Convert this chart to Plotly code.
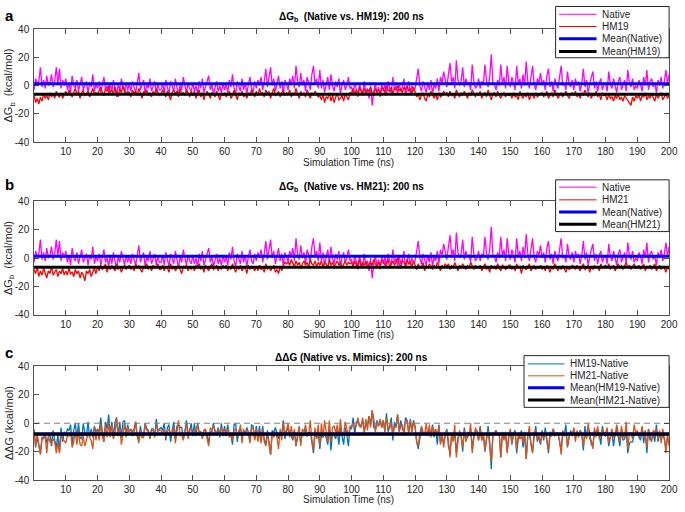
import numpy as np
import plotly.graph_objects as go

# ---------------- data (0.5 ns sampling) ----------------
time_ns = np.arange(0, 200.5, 0.5)

native = [
    -3, 5, 1, 3, 13, -1, 4, -2, 7, 0, 2, 8, -1, 3, 13, 1, 12, -2, 4, 0,          # 0-10
    5, -3, 2, -5, 7, 0, -2, 4, -4, 1, 6, -3, 0, 3, -5, 2, -1, 8, -4, 1,          # 10-20
    -2, 3, -5, 1, 6, -3, 0, -6, 2, -4, 4, -2, -8, 1, -3, 5, -1, -5, 2, -3,       # 20-30
    1, -4, 3, -2, -5, 2, 9, -3, 0, 4, -6, 1, -2, 5, -4, 0, 3, -5, 1, -3,         # 30-40
    -3, 2, -5, 4, -1, -6, 3, 0, -4, 5, -2, -7, 1, -3, 6, -1, -5, 2, -2, -4,      # 40-50
    2, -4, 0, -6, 3, -2, 5, -5, -1, 4, 7, -3, 1, -6, -2, 3, -4, 0, -5, 2,        # 50-60
    -3, 1, -5, 4, -1, 8, -2, -6, 3, 0, -4, 5, -3, 2, -6, 1, 6, -2, -4, 3,        # 60-70
    -2, 4, 0, 6, -3, 3, 12, -1, 8, 13, 0, 5, -4, 2, 7, -2, 3, -5, 4, 1,          # 70-80
    -3, 5, 1, 7, -2, 14, 3, -1, 9, 0, 4, -4, 6, 2, -3, 8, 14, 1, 5, -2,          # 80-90
    11, -2, 4, -5, 2, 6, -3, 8, 0, -4, 3, -1, 5, -6, 1, 4, -3, 0, 6, -2,         # 90-100
    -1, -6, 2, -4, -8, 1, -3, -7, 3, -5, -2, -9, 0, -14, -4, 2, -6, -1, -8, 1,   # 100-110
    -4, 1, -7, 3, -2, -5, 6, -3, 0, -6, 2, -4, -1, 5, -7, -2, 3, -5, 0, -3,      # 110-120
    -2, 5, 12, 0, -4, 3, -1, -5, 2, -3, 4, -6, 1, -2, 5, -4, 6, 2, 10, 3,        # 120-130
    -1, 8, 16, 2, 6, -2, 18, 4, 0, 3, 13, -1, 5, 1, 2, -3, 15, 3, -2, 0,         # 130-140
    5, -2, 3, 1, 15, 3, -1, 6, 22, 2, 1, -3, 4, 0, 15, 1, 6, -2, 14, 3,          # 140-150
    -1, 6, 2, -3, 14, 1, 5, -2, 8, 0, 17, 3, -2, 6, 14, 1, -3, 5, 2, 9,          # 150-160
    0, 4, -3, 7, 12, -1, 3, -4, 5, 1, -2, 6, 14, 0, 2, -3, 10, 1, -1, 4,         # 160-170
    -3, 5, 0, 3, -4, 2, 12, -1, 4, -5, 1, 6, 10, -2, 3, -4, 2, 5, -3, 1,         # 170-180
    2, -4, 10, 1, -2, 5, 0, -5, 3, 6, -3, 1, 4, -4, 11, 2, -1, 5, -3, 0,         # 180-190
    -2, 4, 1, -4, 6, 0, 11, -3, 3, 5, -1, 2, -5, 4, 0, 6, -2, 3, 11, 1,          # 190-200
    8,
]

hm19 = [
    -7, -12, -9, -13, -8, -11, -6, -9, -7, -10, -5, -8, -6, -9, -4, -7, -8, -5, -9, -6,
    -4, -7, -3, -6, -8, -5, -2, -6, -4, -9, -5, -3, -7, -6, -4, -8, -5, -2, -6, -5,
    -6, -3, -1, -5, -7, -2, -4, 0, -5, -3, -6, -1, -4, -8, -2, -5, 0, -3, -6, -4,
    -5, -8, -3, -6, -4, -7, -2, -5, -9, -4, -6, -3, -7, -5, -8, -4, -6, -2, -5, -7,
    -6, -3, -5, -8, -4, -7, -10, -5, -3, -6, -4, -8, -2, -6, -5, -7, -3, -5, -8, -4,
    -7, -4, -9, -6, -3, -8, -5, -10, -6, -4, -7, -9, -5, -6, -8, -4, -7, -10, -5, -7,
    -5, -8, -6, -4, -9, -7, -3, -6, -10, -5, -7, -4, -8, -6, -9, -5, -7, -3, -6, -8,
    -4, -7, -2, -6, -5, -8, -3, -6, -4, -9, -5, -2, -7, -6, -4, -8, -5, -3, -7, -5,
    -6, -3, -8, -5, -7, -2, -6, -9, -4, -7, -5, -8, -3, -6, -9, -5, -7, -4, -6, -8,
    -7, -10, -6, -12, -8, -9, -5, -11, -7, -12, -8, -6, -10, -9, -7, -11, -6, -8, -10, -5,
    -5, -2, -6, -3, -7, -1, -4, -5, -2, -6, -3, -4, -1, -5, -7, -2, -4, -3, -6, -2,
    -2, -5, 0, -3, -4, -1, -6, -2, -3, 0, -4, -2, -5, -1, -3, 0, -4, -2, -6, -1,
    -4, -8, -6, -10, -7, -5, -9, -11, -6, -8, -4, -7, -9, -6, -10, -5, -8, -7, -4, -6,
    -5, -8, -4, -7, -6, -9, -3, -6, -8, -5, -7, -4, -6, -9, -5, -7, -3, -6, -8, -5,
    -7, -4, -9, -6, -5, -8, -3, -7, -10, -6, -5, -8, -4, -7, -9, -6, -5, -8, -6, -7,
    -6, -9, -5, -8, -7, -10, -4, -7, -9, -6, -8, -5, -10, -7, -6, -9, -5, -8, -7, -6,
    -5, -8, -6, -4, -9, -7, -5, -8, -3, -6, -9, -7, -5, -8, -6, -4, -7, -9, -6, -5,
    -7, -4, -8, -6, -9, -5, -7, -3, -6, -8, -5, -9, -6, -7, -4, -8, -6, -10, -5, -7,
    -7, -10, -6, -9, -8, -11, -7, -9, -6, -10, -8, -11, -7, -9, -10, -12, -14, -8, -11, -7,
    -9, -6, -11, -7, -8, -5, -10, -7, -9, -6, -8, -11, -6, -9, -7, -5, -10, -8, -6, -9,
    -7,
]

hm21 = [
    -8, -11, -6, -13, -9, -12, -7, -10, -14, -9, -11, -6, -12, -10, -8, -13, -9, -11, -7, -12,
    -9, -12, -7, -11, -10, -13, -8, -11, -9, -14, -10, -12, -16, -9, -11, -8, -13, -10, -7, -11,
    -6, -9, -5, -8, -7, -4, -10, -6, -8, -5, -7, -9, -4, -8, -6, -10, -7, -5, -8, -6,
    -5, -8, -6, -9, -4, -7, -5, -8, -10, -6, -7, -4, -8, -6, -9, -5, -7, -6, -4, -8,
    -8, -5, -9, -6, -7, -10, -4, -8, -6, -9, -7, -5, -8, -11, -6, -7, -5, -9, -6, -8,
    -6, -9, -5, -7, -4, -8, -6, -10, -5, -7, -9, -6, -4, -8, -7, -5, -9, -6, -8, -5,
    -7, -5, -9, -6, -8, -4, -7, -10, -6, -8, -5, -9, -7, -6, -11, -5, -8, -6, -7, -9,
    -6, -9, -5, -8, -7, -10, -4, -8, -6, -9, -7, -5, -10, -8, -11, -6, -9, -5, -3, -4,
    -3, -5, -1, -4, -6, -2, -5, -3, -7, -4, -2, -5, -3, -6, -1, -4, -5, -2, -6, -3,
    -5, -2, -6, -3, -4, -7, -1, -5, -3, -6, -4, -2, -5, -3, -7, -4, -2, -5, -3, -4,
    -3, -6, -2, -5, -4, -1, -6, -3, -5, -2, -7, -4, -3, -5, -1, -4, -6, -3, -5, -2,
    -2, -5, -3, -1, -6, -4, -2, -5, -3, 0, -4, -6, -2, -3, -5, -1, -4, -3, -6, -2,
    -5, -8, -4, -7, -6, -3, -9, -5, -7, -4, -6, -8, -5, -7, -3, -6, -9, -5, -7, -4,
    -6, -4, -8, -5, -7, -3, -6, -9, -5, -7, -4, -6, -8, -5, -7, -3, -6, -8, -5, -7,
    -7, -5, -9, -6, -4, -8, -6, -10, -5, -7, -6, -8, -4, -7, -9, -5, -6, -8, -7, -5,
    -5, -8, -6, -9, -4, -7, -6, -11, -5, -7, -8, -6, -4, -9, -7, -5, -8, -6, -7, -5,
    -8, -6, -9, -5, -7, -10, -6, -8, -4, -7, -9, -6, -8, -5, -7, -10, -6, -8, -7, -5,
    -6, -8, -5, -7, -9, -6, -4, -8, -7, -5, -10, -6, -8, -5, -7, -6, -9, -4, -7, -6,
    -5, -7, -4, -8, -6, -5, -9, -6, -4, -7, -5, -8, -6, -3, -7, -5, -8, -6, -4, -7,
    -7, -5, -8, -6, -4, -9, -6, -7, -5, -8, -6, -4, -9, -7, -5, -8, -6, -7, -10, -6,
    -8,
]

x_tick_vals = [10, 20, 30, 40, 50, 60, 70, 80, 90, 100, 110, 120, 130, 140, 150, 160, 170, 180, 190, 200]
y_tick_vals = [-40, -20, 0, 20, 40]
y_tick_text = ["-40", "-20", "0", "20", "40"]

titles = ["<b>ΔG<sub>b</sub>\u00a0 (Native vs. HM19): 200 ns</b>",
          "<b>ΔG<sub>b</sub>\u00a0 (Native vs. HM21): 200 ns</b>",
          "<b>ΔΔG (Native vs. Mimics): 200 ns</b>"]
y_titles = ["ΔG<sub>b</sub>\u00a0 (kcal/mol)", "ΔG<sub>b</sub>\u00a0 (kcal/mol)", "ΔΔG (kcal/mol)"]
x_title = "Simulation Time (ns)"
panel_letters = ["a", "b", "c"]
legend_a = ["Native", "HM19", "Mean(Native)", "Mean(HM19)"]
legend_b = ["Native", "HM21", "Mean(Native)", "Mean(HM21)"]
legend_c = ["HM19-Native", "HM21-Native", "Mean(HM19-Native)", "Mean(HM21-Native)"]

assert len(native) == len(hm19) == len(hm21) == len(time_ns)

native_a = np.array(native, dtype=float)
hm19_a = np.array(hm19, dtype=float)
hm21_a = np.array(hm21, dtype=float)
d19 = hm19_a - native_a
d21 = hm21_a - native_a

# ---------------- layout helpers ----------------
W, H = 685, 512
FONT = "Liberation Sans"
DARK = "#262626"


def px(x):
    return x / W


def py(y):
    return 1 - y / H


C_MAG, C_RED, C_BLUE, C_BLK = "#FF00FF", "#FF0000", "#0000FF", "#000000"
C_B19, C_O21 = "#0072BD", "#D95319"

fig = go.Figure()
t0, t1 = float(time_ns[0]), float(time_ns[-1])


def add_panel(k, s1, s2, c1, c2, names):
    xa = "x" if k == 1 else f"x{k}"
    ya = "y" if k == 1 else f"y{k}"
    fig.add_trace(go.Scatter(x=time_ns, y=s1, mode="lines", line=dict(color=c1, width=1.3),
                             name=names[0], showlegend=False, xaxis=xa, yaxis=ya))
    fig.add_trace(go.Scatter(x=time_ns, y=s2, mode="lines", line=dict(color=c2, width=1.3),
                             name=names[1], showlegend=False, xaxis=xa, yaxis=ya))
    if k == 3:
        fig.add_trace(go.Scatter(x=[t0, t1], y=[0, 0], mode="lines",
                                 line=dict(color="#808080", width=1, dash="6px,4px"),
                                 showlegend=False, xaxis=xa, yaxis=ya, hoverinfo="skip"))
    m1, m2 = float(np.mean(s1)), float(np.mean(s2))
    fig.add_trace(go.Scatter(x=[t0, t1], y=[m1, m1], mode="lines", line=dict(color=C_BLUE, width=3),
                             name=names[2], showlegend=False, xaxis=xa, yaxis=ya))
    fig.add_trace(go.Scatter(x=[t0, t1], y=[m2, m2], mode="lines", line=dict(color=C_BLK, width=3),
                             name=names[3], showlegend=False, xaxis=xa, yaxis=ya))


add_panel(1, native_a, hm19_a, C_MAG, C_RED, legend_a)
add_panel(2, native_a, hm21_a, C_MAG, C_RED, legend_b)
add_panel(3, d19, d21, C_B19, C_O21, legend_c)

# panel pixel geometry (top, bottom)
panels = [(23.8, 139.3), (200.0, 316.3), (368.8, 485.7)]
x_left, x_right = 34.5, 678.0

axis_common = dict(showline=True, linecolor=DARK, linewidth=0.8, mirror="ticks", ticks="inside",
                   ticklen=5, tickcolor=DARK, tickwidth=0.8, showgrid=False, zeroline=False,
                   ticklabeloverflow="allow",
                   tickfont=dict(size=10, color=DARK, family=FONT))
layout_axes = {}
for i, (top, bot) in enumerate(panels, start=1):
    sx = "xaxis" if i == 1 else f"xaxis{i}"
    sy = "yaxis" if i == 1 else f"yaxis{i}"
    ya = "y" if i == 1 else f"y{i}"
    xa = "x" if i == 1 else f"x{i}"
    layout_axes[sx] = dict(axis_common, range=[0, 200], tickvals=x_tick_vals,
                           domain=[px(x_left), px(x_right)], anchor=ya, ticklabelstandoff=0)
    layout_axes[sy] = dict(axis_common, range=[-40, 40], tickvals=y_tick_vals, ticktext=y_tick_text,
                           domain=[py(bot), py(top)], anchor=xa, ticklabelstandoff=2)

annotations = []
shapes = []
title_y = [11, 185, 360]
letter_y = [10, 183, 354.5]
xlab_y = [160.5, 336.7, 505]
for i, (top, bot) in enumerate(panels):
    annotations.append(dict(text=titles[i], x=px(356), y=py(title_y[i]), xref="paper", yref="paper",
                            showarrow=False, xanchor="center", yanchor="middle",
                            font=dict(size=10, color="#000000", family=FONT)))
    annotations.append(dict(text=f"<b>{panel_letters[i]}</b>", x=px(3), y=py(letter_y[i]),
                            xref="paper", yref="paper", showarrow=False, xanchor="left",
                            yanchor="middle", font=dict(size=15, color="#000000", family=FONT)))
    annotations.append(dict(text=y_titles[i], x=px(9), y=py((top + bot) / 2), xref="paper",
                            yref="paper", showarrow=False, textangle=-90, xanchor="center",
                            yanchor="middle", font=dict(size=11, color=DARK, family=FONT)))
    annotations.append(dict(text=x_title, x=px(353), y=py(xlab_y[i]), xref="paper", yref="paper",
                            showarrow=False, xanchor="center", yanchor="middle",
                            font=dict(size=10, color=DARK, family=FONT)))

# manual legends (box, line samples, labels)
legend_specs = [
    (legend_a, [C_MAG, C_RED, C_BLUE, C_BLK], (563, 678, 0.5, 53), [8.5, 21, 33.5, 46.5], (566.5, 604.5, 607.5)),
    (legend_b, [C_MAG, C_RED, C_BLUE, C_BLK], (563, 678, 178, 231), [185.5, 198.5, 211, 223.5], (566.5, 604.5, 607.5)),
    (legend_c, [C_B19, C_O21, C_BLUE, C_BLK], (531, 678, 358, 411), [366.5, 378.7, 391, 403.5], (535, 572, 575.5)),
]
for labels, colors, (bx0, bx1, by0, by1), rows, (lx0, lx1, tx) in legend_specs:
    shapes.append(dict(type="rect", xref="paper", yref="paper", x0=px(bx0), x1=px(bx1),
                       y0=py(by1), y1=py(by0), fillcolor="white",
                       line=dict(color=DARK, width=1), layer="above"))
    for j, (lab, col, ry) in enumerate(zip(labels, colors, rows)):
        shapes.append(dict(type="line", xref="paper", yref="paper", x0=px(lx0), x1=px(lx1),
                           y0=py(ry), y1=py(ry), line=dict(color=col, width=1 if j < 2 else 3),
                           layer="above"))
        annotations.append(dict(text=lab, x=px(tx), y=py(ry), xref="paper", yref="paper",
                                showarrow=False, xanchor="left", yanchor="middle",
                                font=dict(size=10, color=DARK, family=FONT)))

fig.update_layout(
    width=W, height=H,
    margin=dict(l=0, r=0, t=0, b=0),
    paper_bgcolor="white", plot_bgcolor="white",
    showlegend=False,
    hovermode=False,
    annotations=annotations, shapes=shapes,
    font=dict(family=FONT, size=10, color=DARK),
    **layout_axes,
)

fig.write_html("out.html",
               config={"displayModeBar": False, "staticPlot": True},
               post_script="document.body.style.margin='0px';document.body.style.padding='0px';"
                           "document.body.style.overflow='hidden';")
